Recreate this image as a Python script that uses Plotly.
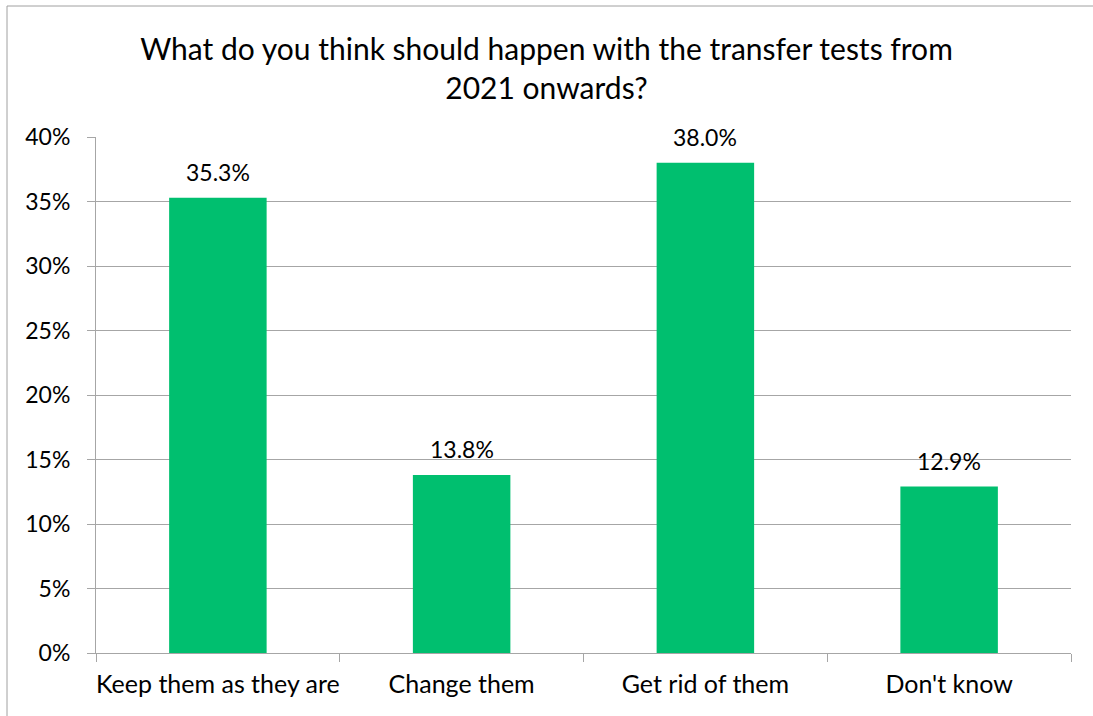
import plotly.graph_objects as go

categories = ["Keep them as they are", "Change them", "Get rid of them", "Don't know"]
values = [0.353, 0.138, 0.380, 0.129]
labels = ["35.3%", "13.8%", "38.0%", "12.9%"]
title_text = "What do you think should happen with the transfer tests from<br>2021 onwards?"

FONT = "Lato, Carlito, Calibri, sans-serif"
GRID = "#A6A6A6"

fig = go.Figure(go.Bar(
    x=categories, y=values,
    marker=dict(color="#00BF6F", line=dict(width=0)),
    width=0.4,
))

for c, v, t in zip(categories, values, labels):
    fig.add_annotation(x=c, y=v, text=t, showarrow=False, yanchor="bottom",
                       yshift=10, font=dict(size=23, family=FONT, color="#000000"))

W, H = 1093, 716
L, R, T, B = 96, 22, 137, 63
pw, ph = W - L - R, H - T - B

fig.update_layout(
    width=W, height=H,
    margin=dict(l=L, r=R, t=T, b=B, pad=0),
    paper_bgcolor="white", plot_bgcolor="white",
    font=dict(family=FONT, size=23, color="#000000"),
    title=dict(text=title_text, x=0.5, xanchor="center", y=1 - 60 / H, yanchor="top",
               font=dict(size=30, family=FONT, color="#000000")),
    showlegend=False,
    xaxis=dict(type="category", showline=True, linecolor=GRID, linewidth=1,
               ticks="outside", tickson="boundaries", ticklen=8, tickcolor=GRID,
               showgrid=False, tickfont=dict(size=25), ticklabelstandoff=9,
               tickangle=0, automargin=False),
    yaxis=dict(range=[0, 0.4], dtick=0.05, tickformat=".0%", showgrid=True,
               gridcolor=GRID, gridwidth=1, showline=True, linecolor=GRID,
               ticks="outside", ticklen=8, tickcolor=GRID, zeroline=False,
               tickfont=dict(size=23), ticklabelstandoff=12, automargin=False),
    shapes=[dict(type="rect", xref="paper", yref="paper",
                 x0=(7 - L) / pw, x1=(W + 20 - L) / pw,
                 y0=-(H + 20 - (T + ph)) / ph, y1=(T + ph - 6) / ph,
                 line=dict(color="#A0A0A0", width=1), fillcolor="rgba(0,0,0,0)", layer="below")],
)

fig.write_html("out.html", config={"displayModeBar": False},
               post_script="document.body.style.margin='0';document.body.style.overflow='hidden';")
